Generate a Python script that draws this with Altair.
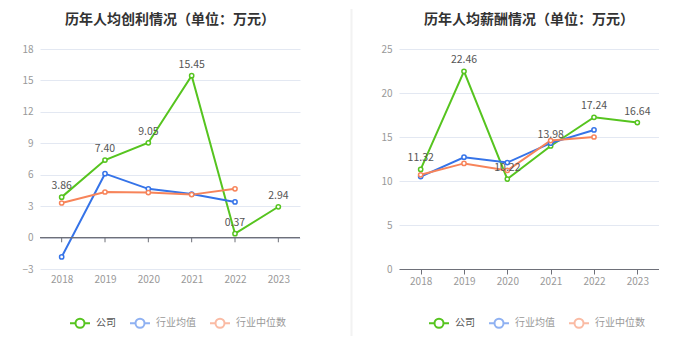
import altair as alt
import pandas as pd

years = ["2018", "2019", "2020", "2021", "2022", "2023"]
series = ["公司", "行业均值", "行业中位数"]
colors = ["#56c41f", "#3573e8", "#f7845a"]

profit_company = [3.86, 7.40, 9.05, 15.45, 0.37, 2.94]
profit_mean = [-1.85, 6.1, 4.65, 4.15, 3.4]
profit_median = [3.3, 4.35, 4.3, 4.1, 4.65]

salary_company = [11.32, 22.46, 10.22, 13.98, 17.24, 16.64]
salary_mean = [10.5, 12.7, 12.1, 14.3, 15.8]
salary_median = [10.7, 12.0, 11.2, 14.6, 15.0]

FONT = "Noto Sans CJK SC"
SYMBOL = ("M-1,0H-0.45M0.45,0H1M0.45,0A0.45,0.45 0 1,1 -0.45,0"
          "A0.45,0.45 0 1,1 0.45,0Z")


def make_df(comp, mean, med):
    rows = []
    for name, vals in zip(series, [comp, mean, med]):
        for y, v in zip(years, vals):
            rows.append({"year": y, "series": name, "value": v,
                         "label": f"{v:.2f}"})
    return pd.DataFrame(rows)


def panel(title, comp, mean, med, ymin, ymax, step, zero_inside, sep=False):
    df = make_df(comp, mean, med)
    yvals = list(range(ymin, ymax + 1, step))
    xscale = alt.Scale(type="point", padding=0.5, domain=years)
    yscale = alt.Scale(domain=[ymin, ymax], nice=False, zero=False)
    if zero_inside:
        xaxis = alt.Axis(title=None, labelAngle=0, domain=False, ticks=False,
                         labelPadding=5, labelColor="#999", labelFontSize=10,
                         labelFont=FONT)
    else:
        xaxis = alt.Axis(title=None, labelAngle=0, domain=True, ticks=True,
                         tickSize=5, domainColor="#6e7079", tickColor="#6e7079",
                         labelPadding=2, labelColor="#999", labelFontSize=10,
                         labelFont=FONT)
    yaxis = alt.Axis(title=None, values=yvals, grid=True, gridColor="#e3e8f2",
                     domain=False, ticks=False, labelPadding=7,
                     labelOverlap=False,
                     labelColor="#999", labelFontSize=10, labelFont=FONT,
                     minExtent=32, maxExtent=32)
    cscale = alt.Scale(domain=series, range=colors)
    X = alt.X("year:O", scale=xscale, axis=xaxis, sort=years)
    base = alt.Chart(df).encode(
        x=X,
        y=alt.Y("value:Q", scale=yscale, axis=yaxis),
    )
    legend = alt.Legend(
        orient="none", legendX=29, legendY=263,
        direction="horizontal", title=None,
        symbolType=SYMBOL, symbolSize=400, symbolStrokeWidth=2,
        symbolFillColor="white", labelFontSize=10, labelFont=FONT,
        labelColor=alt.expr("datum.label == '公司' ? '#555' : '#999'"),
        symbolOpacity=alt.expr("datum.label == '公司' ? 1 : 0.55"),
        labelOffset=5, columnPadding=10,
    )
    lines = base.mark_line(strokeWidth=2).encode(
        color=alt.Color("series:N", scale=cscale, legend=legend, sort=series)
    )
    pts = base.mark_point(filled=False, fill="white", size=18, strokeWidth=1.5,
                          opacity=1).encode(
        color=alt.Color("series:N", scale=cscale, legend=None, sort=series)
    )
    labels = base.transform_filter(alt.datum.series == "公司").mark_text(
        baseline="bottom", dy=-6, fontSize=10.5, color="#555", font=FONT
    ).encode(text="label:N")
    layers = [lines, pts, labels]
    if zero_inside:
        ydf = pd.DataFrame({"year": years})
        zero = alt.Chart(ydf).mark_rule(color="#6e7079", strokeWidth=1).encode(
            y=alt.Y(datum=0, scale=yscale, axis=yaxis))
        ticks = alt.Chart(ydf).mark_rule(color="#6e7079", strokeWidth=1).encode(
            x=X,
            y=alt.Y(datum=0, scale=yscale, axis=yaxis), y2=alt.datum(-0.45))
        layers += [zero, ticks]
    if sep:
        sepline = alt.Chart(pd.DataFrame({"a": [0]})).mark_rule(
            color="#f2f2f2", strokeWidth=2).encode(
            x=alt.value(-47.5), y=alt.value(-40), y2=alt.value(287))
        layers.append(sepline)
    return alt.layer(*layers).properties(
        width=260, height=220,
        title=alt.TitleParams(title, fontSize=14, fontWeight="bold",
                              color="#333", font=FONT,
                              offset=-19 if sep else 17,
                              frame="group", anchor="middle"),
    )


left = panel("历年人均创利情况（单位：万元）", profit_company, profit_mean,
             profit_median, -3, 18, 3, True)
right = panel("历年人均薪酬情况（单位：万元）", salary_company, salary_mean,
              salary_median, 0, 25, 5, False, sep=True)

chart = alt.hconcat(left, right, spacing=99, bounds="flush").resolve_scale(
    color="independent", y="independent", x="independent"
).resolve_legend(color="independent").configure(
    padding=0, background="white"
).configure_view(stroke=None)

chart.save("out.html", embed_options={"renderer": "svg", "actions": False})
